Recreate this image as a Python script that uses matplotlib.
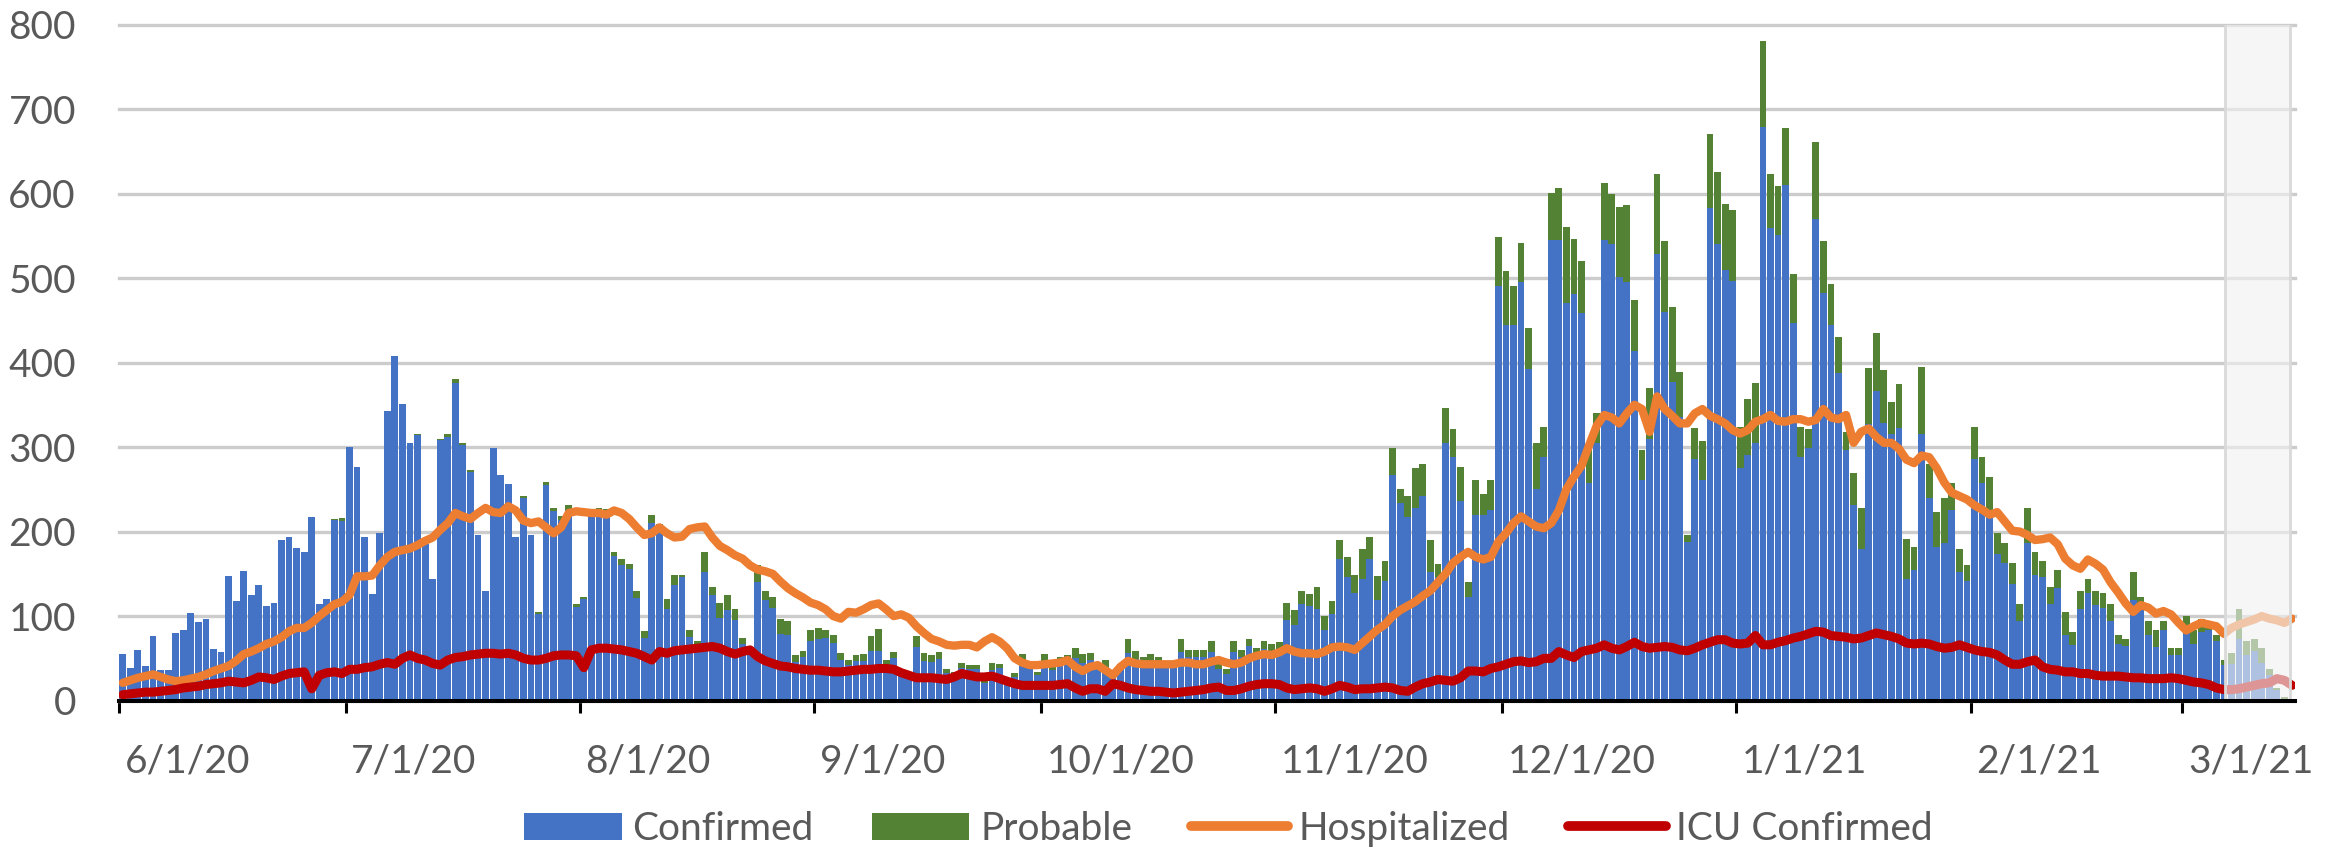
import matplotlib
matplotlib.use("Agg")
import matplotlib.pyplot as plt
import matplotlib.transforms as mtransforms
import numpy as np
from matplotlib import font_manager
from matplotlib.lines import Line2D
from matplotlib.patches import Patch

# Valores diarios, de 6/1/20 ate 3/15/21 (um valor por dia)
# total de casos (confirmados + provaveis)
total = [
    55, 39, 60, 41, 76, 36, 36, 80, 84, 104, 93, 96, 61, 58, 148, 118, 153, 125, 137, 112,
    116, 190, 194, 181, 176, 217, 114, 120, 215, 216,  # junho
    300, 277, 193, 126, 198, 343, 408, 351, 305, 316, 185, 144, 310, 316, 380, 305, 273, 196,
    130, 299, 267, 256, 193, 242, 196, 105, 259, 228, 218, 231, 114,  # julho
    123, 226, 228, 227, 176, 167, 162, 130, 82, 220, 209, 120, 149, 149, 84, 70, 176, 135,
    116, 125, 108, 74, 60, 160, 130, 122, 96, 94, 54, 59, 84,  # agosto
    86, 84, 78, 56, 48, 54, 55, 76, 85, 48, 58, 34, 34, 76, 56, 54, 58, 37, 34, 44,
    42, 42, 24, 44, 43, 26, 33, 55, 45, 34,  # setembro
    55, 43, 51, 54, 62, 55, 56, 43, 48, 31, 43, 73, 59, 51, 55, 52, 43, 43, 73, 60,
    60, 60, 71, 43, 37, 71, 60, 73, 62, 70, 67,  # outubro
    69, 116, 107, 130, 126, 134, 100, 118, 190, 170, 149, 179, 194, 148, 165, 299, 250, 242,
    275, 280, 190, 162, 346, 321, 277, 140, 261, 245, 261, 548,  # novembro
    508, 490, 541, 441, 305, 324, 601, 606, 560, 546, 520, 297, 340, 612, 599, 584, 587, 474,
    297, 370, 623, 544, 466, 389, 196, 322, 307, 670, 626, 588, 580,  # dezembro
    324, 357, 376, 780, 623, 609, 678, 505, 324, 321, 661, 544, 493, 430, 318, 269, 228, 393,
    435, 391, 353, 375, 191, 182, 395, 280, 223, 240, 258, 179, 160,  # janeiro
    324, 288, 264, 198, 187, 163, 114, 228, 176, 165, 135, 155, 105, 81, 130, 144, 130, 127,
    114, 78, 73, 152, 122, 94, 84, 94, 62, 62,  # fevereiro
    100, 84, 97, 94, 78, 48, 56, 108, 70, 73, 62, 37, 15, 4, 0,  # marco
]

provaveis = [
    0, 0, 0, 0, 0, 0, 0, 0, 0, 0, 0, 0, 0, 0, 0, 0, 0, 0, 0, 0,
    0, 0, 0, 0, 0, 0, 0, 0, 1, 3,
    0, 0, 0, 0, 0, 0, 0, 0, 0, 2, 0, 0, 2, 4, 4, 2, 2, 0,
    0, 0, 0, 0, 0, 2, 0, 3, 4, 4, 4, 5, 3,
    3, 3, 4, 4, 5, 6, 6, 9, 8, 10, 11, 12, 12, 3, 9, 3, 24, 10,
    18, 18, 13, 7, 5, 20, 11, 13, 17, 16, 8, 8, 13,
    13, 10, 10, 8, 6, 7, 8, 17, 26, 6, 8, 3, 3, 12, 9, 8, 9, 4, 3, 6,
    5, 5, 3, 8, 5, 3, 5, 10, 6, 4,
    8, 7, 6, 8, 12, 10, 8, 6, 8, 4, 6, 17, 10, 7, 8, 7, 5, 5, 16, 8,
    8, 9, 14, 6, 5, 14, 9, 8, 7, 9, 8,
    8, 21, 18, 16, 14, 26, 16, 15, 22, 24, 22, 35, 26, 29, 24, 32, 16, 25,
    47, 38, 38, 16, 41, 33, 41, 18, 41, 25, 35, 58,
    64, 46, 46, 49, 55, 36, 56, 61, 90, 65, 61, 39, 35, 67, 59, 83, 92, 60,
    36, 60, 94, 84, 89, 54, 8, 36, 46, 87, 86, 78, 84,
    49, 66, 71, 101, 64, 58, 68, 58, 36, 22, 91, 62, 48, 42, 21, 38, 49, 66,
    69, 63, 37, 53, 47, 27, 79, 40, 41, 53, 32, 27, 19,
    38, 30, 47, 24, 24, 25, 20, 41, 27, 19, 21, 22, 27, 15, 22, 17, 17, 18,
    20, 11, 8, 33, 8, 16, 20, 10, 8, 8,
    16, 17, 16, 10, 8, 6, 13, 35, 16, 14, 17, 7, 3, 2, 0,
]

hospitalizados = [
    21, 24, 27, 29, 31, 28, 25, 23, 24, 26, 28, 31, 35, 38, 41, 47, 55, 58, 62, 67,
    70, 75, 82, 86, 86, 92, 100, 107, 114, 117,
    125, 147, 147, 148, 160, 170, 176, 178, 180, 184, 189, 193, 202, 210, 222, 218, 215, 222,
    228, 223, 222, 230, 225, 213, 210, 212, 205, 198, 205, 222, 224,
    223, 222, 222, 220, 225, 222, 215, 205, 196, 198, 205, 198, 193, 194, 203, 205, 206, 193,
    183, 178, 172, 168, 160, 155, 153, 150, 141, 133, 127, 122, 116,
    113, 108, 100, 97, 105, 104, 108, 113, 115, 108, 100, 102, 98, 88, 80, 73, 70, 66, 65, 66,
    66, 63, 70, 75, 70, 62, 50, 45, 42, 42,
    43, 44, 45, 48, 40, 35, 40, 42, 36, 30, 40, 47, 44, 43, 43, 43, 43, 43, 45, 45,
    43, 43, 46, 48, 45, 43, 45, 50, 53, 55, 54,
    57, 62, 58, 56, 56, 55, 58, 63, 64, 63, 60, 68, 76, 84, 90, 100, 107, 112,
    117, 124, 130, 140, 150, 163, 170, 176, 170, 167, 170, 188,
    198, 210, 218, 212, 206, 204, 210, 225, 250, 265, 278, 302, 325, 338, 335, 328, 340, 350,
    345, 318, 360, 345, 337, 328, 328, 340, 345, 337, 333, 328, 320,
    316, 320, 330, 333, 338, 331, 330, 333, 333, 330, 332, 345, 335, 333, 338, 305, 318, 322,
    312, 305, 305, 298, 285, 281, 290, 288, 275, 258, 246, 242, 238,
    231, 226, 220, 223, 212, 201, 200, 196, 190, 191, 193, 185, 168, 160, 156, 167, 162, 155,
    140, 128, 115, 105, 113, 110, 103, 106, 102, 92,
    83, 88, 92, 90, 88, 79, 86, 90, 93, 96, 100, 97, 95, 92, 97,
]

uti = [
    7, 8, 9, 10, 10, 11, 12, 13, 15, 16, 17, 19, 20, 21, 23, 22, 21, 24, 28, 27,
    25, 29, 32, 33, 34, 14, 30, 33, 34, 32,
    37, 37, 39, 40, 43, 45, 43, 50, 54, 50, 48, 44, 42, 48, 51, 52, 54, 55,
    56, 56, 55, 56, 54, 50, 48, 48, 50, 53, 54, 54, 53,
    39, 60, 62, 62, 61, 60, 58, 56, 52, 48, 58, 56, 59, 60, 61, 62, 63, 64,
    62, 58, 55, 58, 60, 52, 47, 44, 41, 40, 38, 37, 36,
    36, 35, 34, 34, 35, 36, 37, 37, 38, 38, 37, 33, 30, 27, 27, 27, 26, 25, 28, 32,
    30, 28, 28, 29, 26, 23, 20, 18, 18, 18,
    18, 18, 19, 20, 15, 11, 14, 14, 11, 20, 18, 15, 13, 12, 11, 11, 10, 9, 10, 11,
    12, 13, 15, 16, 12, 12, 14, 17, 19, 20, 20,
    19, 15, 13, 14, 15, 14, 11, 14, 18, 16, 13, 14, 14, 15, 16, 15, 12, 11,
    16, 20, 22, 25, 24, 23, 27, 35, 35, 34, 38, 40,
    43, 46, 47, 45, 46, 50, 50, 58, 54, 51, 58, 60, 62, 66, 62, 60, 64, 69,
    64, 62, 63, 64, 63, 60, 59, 62, 66, 69, 72, 72, 68,
    67, 68, 77, 66, 66, 69, 71, 74, 76, 79, 82, 81, 77, 76, 75, 73, 74, 77,
    80, 78, 76, 73, 68, 67, 68, 67, 64, 62, 63, 66, 63,
    60, 58, 57, 54, 48, 43, 43, 46, 48, 40, 37, 36, 34, 34, 32, 32, 30, 29,
    29, 29, 28, 27, 27, 26, 26, 26, 27, 26,
    24, 22, 21, 19, 15, 13, 13, 14, 16, 18, 20, 21, 26, 24, 18,
]

confirmados = [t - p for t, p in zip(total, provaveis)]

# Inicio de cada mes (indice do dia) e rotulos do eixo x
inicio_meses = [0, 30, 61, 92, 122, 153, 183, 214, 245, 273]
rotulos_meses = ['6/1/20', '7/1/20', '8/1/20', '9/1/20', '10/1/20',
                 '11/1/20', '12/1/20', '1/1/21', '2/1/21', '3/1/21']

# Cores
cor_confirmado = '#4472C4'
cor_provavel = '#548235'
cor_hospital = '#ED7D31'
cor_uti = '#C00000'
cor_texto = '#595959'

nomes_fontes = {f.name for f in font_manager.fontManager.ttflist}
plt.rcParams['font.family'] = 'Lato' if 'Lato' in nomes_fontes else 'DejaVu Sans'
tamanho_fonte = 28

dias = np.arange(len(total)) + 0.5

fig = plt.figure(figsize=(23.36, 8.51), dpi=100)
ax = fig.add_axes([119 / 2336, 1 - 700.6 / 851, (2295 - 119) / 2336, (700.6 - 24.5) / 851])

ax.bar(dias, confirmados, width=0.9, color=cor_confirmado, linewidth=0, zorder=2)
ax.bar(dias, provaveis, bottom=confirmados, width=0.9, color=cor_provavel, linewidth=0, zorder=2)
ax.plot(dias, hospitalizados, color=cor_hospital, lw=6, zorder=3,
        solid_capstyle='round', solid_joinstyle='round')
ax.plot(dias, uti, color=cor_uti, lw=6.5, zorder=3.5,
        solid_capstyle='round', solid_joinstyle='round')

# Faixa cinza dos ultimos dias (dados incompletos)
ax.axvspan(278.6, 287.2, facecolor='#f2f2f2', alpha=0.62, lw=0, zorder=4)
ax.vlines([278.6, 287.2], 0, 800, colors='#d9d9d9', lw=2, zorder=4.1)

ax.set_xlim(0, 287.9)
ax.set_ylim(0, 800)

ax.set_axisbelow(True)
ax.yaxis.grid(True, color='#cccccc', lw=2.4)
for linha in ax.get_ygridlines():
    linha.set_clip_on(False)

for lado in ['left', 'top', 'right']:
    ax.spines[lado].set_visible(False)
ax.spines['bottom'].set_linewidth(2.9)
ax.spines['bottom'].set_color('black')
ax.spines['bottom'].set_zorder(5)

ax.set_yticks(range(0, 801, 100))
ax.tick_params(axis='y', length=0, pad=31, labelsize=tamanho_fonte, labelcolor=cor_texto)

ax.set_xticks(inicio_meses)
ax.set_xticklabels(rotulos_meses)
ax.tick_params(axis='x', direction='out', length=8.6, width=2.2, color='black', pad=22,
               labelsize=tamanho_fonte, labelcolor=cor_texto)
deslocamento = mtransforms.ScaledTranslation(4 / 72, 0, fig.dpi_scale_trans)
for rotulo in ax.get_xticklabels():
    rotulo.set_horizontalalignment('left')
    rotulo.set_transform(rotulo.get_transform() + deslocamento)

legenda = [
    Patch(facecolor=cor_confirmado, label='Confirmed'),
    Patch(facecolor=cor_provavel, label='Probable'),
    Line2D([0], [0], color=cor_hospital, lw=7, solid_capstyle='round', label='Hospitalized'),
    Line2D([0], [0], color=cor_uti, lw=7, solid_capstyle='round', label='ICU Confirmed'),
]
fig.legend(handles=legenda, loc='center', bbox_to_anchor=(0.526, 0.026), ncol=4, frameon=False,
           fontsize=tamanho_fonte, handlelength=2.5, handleheight=0.7, handletextpad=0.28,
           columnspacing=1.5, labelcolor=cor_texto, borderaxespad=0)

fig.savefig('out.png', dpi=100)
